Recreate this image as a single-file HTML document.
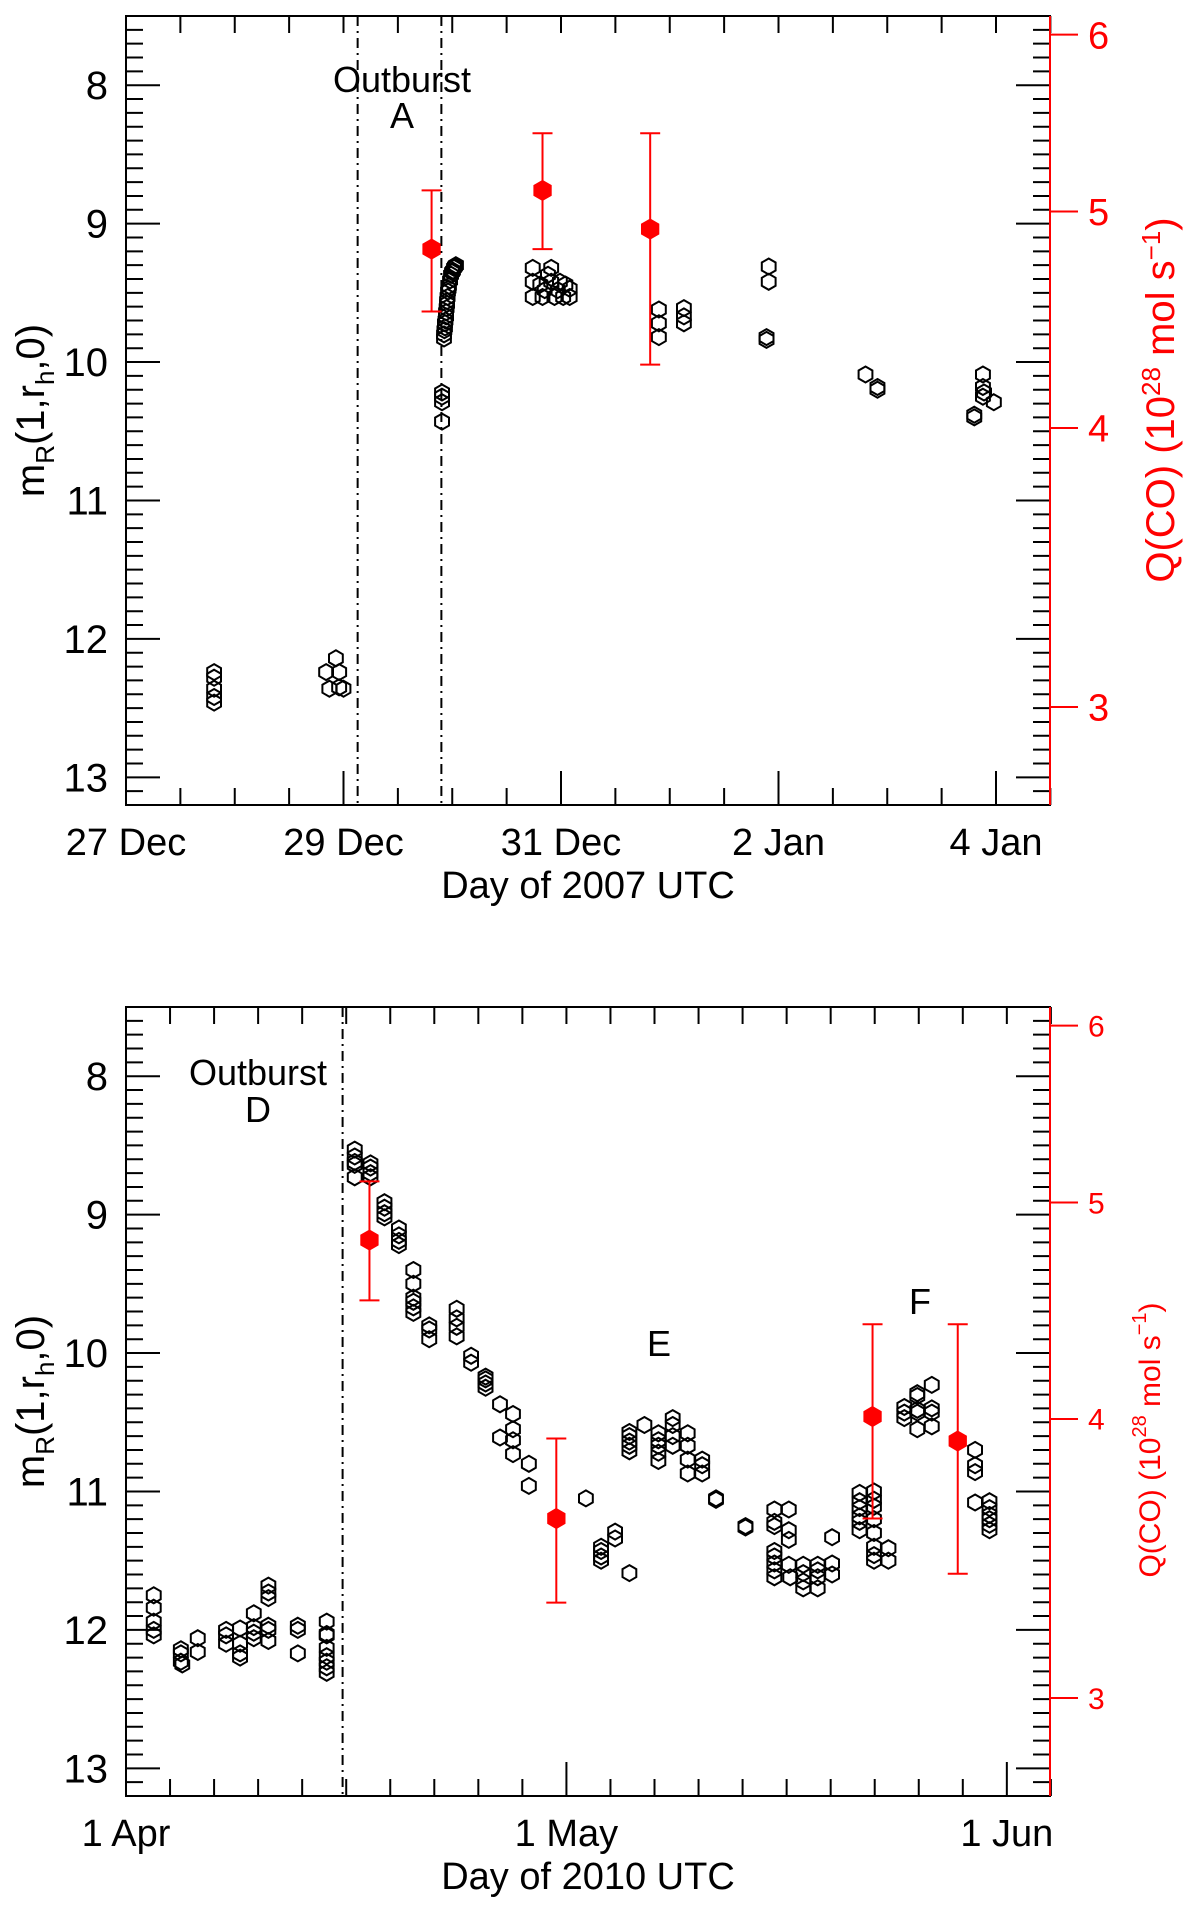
<!DOCTYPE html>
<html><head><meta charset="utf-8"><style>
html,body{margin:0;padding:0;background:#fff}
svg{display:block;font-family:"Liberation Sans",sans-serif}
</style></head><body>
<svg id="fig" width="1200" height="1906" viewBox="0 0 1200 1906" xmlns="http://www.w3.org/2000/svg"></svg>
<script>
// ---------- Panel A data (days since 27 Dec 2007 0h) ----------
const topDays = [0.81,0.81,0.81,0.81,0.81, 1.84,1.93,1.96,1.87,2.0,1.96,
 2.924,2.924,2.928,2.933,2.933,2.938,2.943,2.943,2.948,2.952,2.952,2.957,2.961,2.966,2.970,2.980,2.989,2.998,3.007,3.016,3.025,3.034,
 2.906,2.906,2.906,2.906,
 3.74,3.91,3.74,3.81,3.91,3.99,4.04,4.08,3.74,3.83,3.94,4.02,4.08,3.85,3.97,3.88,
 4.90,4.90,4.90,5.13,5.13,5.13,5.91,5.91,5.89,5.89,
 6.80,6.91,6.91,7.88,7.88,7.88,7.89,7.98,7.80,7.80];
const topMags = [12.24,12.28,12.36,12.42,12.46, 12.24,12.14,12.24,12.36,12.36,12.35,
 9.83,9.80,9.77,9.75,9.72,9.70,9.67,9.64,9.61,9.58,9.56,9.53,9.49,9.47,9.45,9.41,9.37,9.35,9.34,9.32,9.31,9.30,
 10.22,10.25,10.29,10.43,
 9.32,9.32,9.42,9.44,9.42,9.42,9.44,9.47,9.53,9.53,9.53,9.53,9.53,9.48,9.48,9.37,
 9.62,9.72,9.82,9.61,9.67,9.72,9.31,9.42,9.82,9.84,
 10.09,10.18,10.20,10.09,10.18,10.25,10.22,10.29,10.40,10.38];
const topQDays = [2.81,3.83,4.82];
const topQ = [4.81,5.11,4.91];
const topQHi = [5.11,5.42,5.42];
const topQLo = [4.51,4.81,4.27];
const topOutburstDays = [2.13,2.90];
const topXLabels = ["27 Dec","29 Dec","31 Dec","2 Jan","4 Jan"];

// ---------- Panel B data (days since 1 Apr 2010 0h) ----------
const botDays = [1.92,1.92,1.92,1.92,1.92, 3.8,3.8,3.8,3.9, 4.97,4.97, 6.93,6.93,6.93, 7.9,7.9,7.9,7.9,
 8.85,8.85,8.85,8.85, 9.86,9.86,9.86,9.86,9.86,9.86, 11.9,11.9,11.9, 13.9,13.9,13.9,13.9,13.9,13.9,13.9,13.9,
 15.84,15.84,15.84,15.84,15.84, 16.93,16.93,16.93,16.93, 17.9,17.9,17.9,17.9, 18.9,18.9,18.9,18.9,
 19.9,19.9,19.9,19.9,19.9,19.9, 21.0,21.0,21.0, 22.9,22.9,22.9,22.9, 23.9,23.9, 24.9,24.9,24.9,24.9,
 25.9,25.9, 26.8,26.8,26.8,26.8, 27.9,27.9,
 31.85, 32.9,32.9,32.9,32.9, 33.87,33.87, 34.86, 34.86,34.86,34.86,34.86,34.86, 35.9,
 36.87,36.87,36.87,36.87,36.87, 37.86,37.86,37.86,37.86, 38.9,38.9,38.9,38.9, 39.9,39.9,39.9, 40.86,40.86, 42.9,42.9,
 44.9,44.9,44.9,44.9,44.9,44.9,44.9,44.9, 45.9,45.9,45.9,45.9,46.0, 46.9,46.9,46.9,46.9, 47.9,47.9,47.9,47.9, 48.9,48.9,48.9,
 50.8,50.8,50.8,50.8,50.8,50.8, 51.8,51.8,51.8,51.8,51.8,51.8,51.8,51.8, 52.8,52.8,
 53.9,53.9,53.9, 54.8,54.8,54.8,54.8,54.8, 55.8,55.8,55.8,55.8,
 58.8,58.8,58.8,58.8, 59.8,59.8,59.8,59.8,59.8,59.8];
const botMags = [11.75,11.84,11.94,12.0,12.04, 12.14,12.17,12.23,12.25, 12.06,12.16, 12.0,12.04,12.1, 11.99,12.1,12.17,12.2,
 11.88,11.98,12.02,12.06, 11.68,11.73,11.77,11.97,12.0,12.08, 11.97,12.0,12.17, 11.94,12.03,12.04,12.13,12.19,12.23,12.27,12.31,
 8.53,8.58,8.62,8.64,8.73, 8.63,8.66,8.70,8.73, 8.91,8.95,8.99,9.02, 9.1,9.15,9.19,9.22,
 9.4,9.5,9.6,9.63,9.67,9.71, 9.8,9.83,9.9, 9.68,9.75,9.81,9.88, 10.02,10.07, 10.17,10.19,10.22,10.25,
 10.37,10.61, 10.44,10.55,10.63,10.73, 10.8,10.96,
 11.05, 11.40,11.43,11.47,11.5, 11.29,11.34, 11.59, 10.57,10.6,10.64,10.67,10.71, 10.52,
 10.58,10.63,10.67,10.72,10.78, 10.47,10.52,10.6,10.67, 10.58,10.67,10.77,10.87, 10.77,10.81,10.87, 11.05,11.06, 11.25,11.26,
 11.13,11.22,11.25,11.43,11.47,11.52,11.57,11.62, 11.13,11.28,11.35,11.53,11.62, 11.53,11.59,11.65,11.70, 11.53,11.57,11.62,11.70, 11.33,11.52,11.60,
 11.01,11.07,11.12,11.18,11.22,11.28, 11.0,11.06,11.11,11.2,11.3,11.4,11.46,11.5, 11.41,11.5,
 10.39,10.43,10.47, 10.29,10.31,10.41,10.43,10.55, 10.23,10.4,10.43,10.53,
 10.7,10.81,10.86,11.08, 11.07,11.12,11.17,11.2,11.24,11.28];
const botQDays = [16.86,29.8,51.7,57.6];
const botQ = [4.81,3.61,4.01,3.91];
const botQHi = [5.11,3.92,4.41,4.41];
const botQLo = [4.52,3.31,3.61,3.41];
const botOutburstDays = [15.0];
const botXLabels = ["1 Apr","1 May","1 Jun"];

const yTickLabels = [8,9,10,11,12,13];
const qTickLabels = [3,4,5,6];

// ---------- drawing ----------
const NS = "http://www.w3.org/2000/svg";
const svg = document.getElementById("fig");
function el(tag, attrs, parent){
  const e = document.createElementNS(NS, tag);
  for (const k in attrs) e.setAttribute(k, attrs[k]);
  (parent||svg).appendChild(e);
  return e;
}
function hexPath(cx, cy, r){
  let d = "";
  for (let i=0;i<6;i++){
    const a = Math.PI/180*(60*i-90);
    d += (i?"L":"M")+(cx+r*Math.cos(a)).toFixed(1)+","+(cy+r*Math.sin(a)).toFixed(1);
  }
  return d+"Z";
}

function drawPanel(p){
  const L=126, R=1050, T=p.top, B=p.top+789;
  const yMin=7.5, yMax=13.2;
  const yScale = m => T + (m-yMin)/(yMax-yMin)*(B-T);
  const qScale = q => T + 691 - 970*Math.log(q/3);
  const xScale = p.xScale;
  const g = el("g", {});
  
  

  const frame = el("rect", {x:L, y:T, width:R-L, height:B-T, fill:"none", stroke:"#000", "stroke-width":2}, g);
  
  

  for (let i=0;i<=57;i++){
    const m = yMin + i*0.1;
    const major = Math.abs(m-Math.round(m))<1e-6;
    const y = yScale(m);
    const len = major?34:17;
    el("line",{x1:L,y1:y,x2:L+len,y2:y,stroke:"#000","stroke-width":2},g);
    el("line",{x1:R,y1:y,x2:R-len,y2:y,stroke:"#000","stroke-width":2},g);
  }
  yTickLabels.forEach(v=>{
    const t = el("text",{x:108,y:yScale(v)+14,"font-size":40,"text-anchor":"end",fill:"#000"},g);
    t.textContent = v;
    
    
  });

  p.xTicks.forEach(tk=>{
    const x = xScale(tk.d);
    const len = tk.major?34:17;
    el("line",{x1:x,y1:B,x2:x,y2:B-len,stroke:"#000","stroke-width":2},g);
    el("line",{x1:x,y1:T,x2:x,y2:T+17,stroke:"#000","stroke-width":2},g);
  });
  p.labels.forEach((lab,i)=>{
    const t = el("text",{x:xScale(p.labelDays[i]),y:B+50,"font-size":38,"text-anchor":"middle",fill:"#000"},g);
    t.textContent = lab;
    
    
  });
  const xt = el("text",{x:588,y:B+93,"font-size":38,"text-anchor":"middle",fill:"#000"},g);
  xt.textContent = p.xTitle;
  
  

  const yc = (T+B)/2;
  const yt = el("text",{x:0,y:0,"font-size":40,"text-anchor":"middle",fill:"#000",transform:`translate(44,${yc}) rotate(-90)`},g);
  yt.innerHTML = 'm<tspan font-size="26" dy="10">R</tspan><tspan dy="-10">(1,r</tspan><tspan font-size="26" dy="10">h</tspan><tspan dy="-10">,0)</tspan>';
  
  

  const qa = el("line",{x1:R,y1:T,x2:R,y2:B,stroke:"#f00","stroke-width":2},g);
  
  
  qTickLabels.forEach(v=>{
    const y = qScale(v);
    el("line",{x1:R,y1:y,x2:R+28,y2:y,stroke:"#f00","stroke-width":2},g);
    const t = el("text",{x:R+38,y:y+p.qFont*0.36,"font-size":p.qFont,fill:"#f00"},g);
    t.textContent = v;
    
    
  });
  const qt = el("text",{x:0,y:0,"font-size":p.qTitleFont,"text-anchor":"middle",fill:"#f00",transform:`translate(${p.qTitleX},${p.qTitleY}) rotate(-90)`},g);
  qt.innerHTML = 'Q(CO) (10<tspan font-size="'+Math.round(p.qTitleFont*0.65)+'" dy="-14">28</tspan><tspan dy="14"> mol s</tspan><tspan font-size="'+Math.round(p.qTitleFont*0.65)+'" dy="-14">−1</tspan><tspan dy="14">)</tspan>';
  
  

  p.outburst.forEach(d=>{
    const ln = el("line",{x1:xScale(d),y1:T,x2:xScale(d),y2:B,stroke:"#000","stroke-width":2,"stroke-dasharray":"10,5,2,5"},g);
    
    
  });
  p.annotations.forEach(a=>{
    const t = el("text",{x:a.x,y:a.y,"font-size":36,"text-anchor":"middle",fill:"#000"},g);
    t.textContent = a.text;
    
    
  });

  const pts = el("g",{},g);
  
  
  p.days.forEach((d,i)=>{
    const h = el("path",{d:hexPath(xScale(d), yScale(p.mags[i]), 8),fill:"none",stroke:"#000","stroke-width":2},pts);
    
    
  });

  const qg = el("g",{},g);
  
  
  p.qDays.forEach((d,i)=>{
    const x = xScale(d), yh = qScale(p.qHi[i]), yl = qScale(p.qLo[i]);
    el("line",{x1:x,y1:yh,x2:x,y2:yl,stroke:"#f00","stroke-width":2},qg);
    el("line",{x1:x-10,y1:yh,x2:x+10,y2:yh,stroke:"#f00","stroke-width":2},qg);
    el("line",{x1:x-10,y1:yl,x2:x+10,y2:yl,stroke:"#f00","stroke-width":2},qg);
    const h = el("path",{d:hexPath(x, qScale(p.q[i]), 10),fill:"#f00",stroke:"#f00","stroke-width":1},qg);
    
    
  });
}

const topTicks = [];
for (let i=0;i<=17;i++){ topTicks.push({d:i*0.5, major:(i%4===0)}); }
drawPanel({
  name:"panel-outburst-a", top:16,
  xScale: d => 126 + d*108.75,
  xTicks: topTicks, labels: topXLabels, labelDays:[0,2,4,6,8],
  xTitle:"Day of 2007 UTC",
  days: topDays, mags: topMags,
  qDays: topQDays, q: topQ, qHi: topQHi, qLo: topQLo,
  outburst: topOutburstDays,
  annotations:[{text:"Outburst",x:402,y:92},{text:"A",x:402,y:128}],
  qFont:38, qTitleFont:40, qTitleX:1174, qTitleY:400
});

const botTicks = [];
for (let i=0;i<=21;i++){ botTicks.push({d:i*3.05, major:(i%10===0)}); }
drawPanel({
  name:"panel-outburst-d", top:1007,
  xScale: d => 126 + d*14.44,
  xTicks: botTicks, labels: botXLabels, labelDays:[0,30.5,61],
  xTitle:"Day of 2010 UTC",
  days: botDays, mags: botMags,
  qDays: botQDays, q: botQ, qHi: botQHi, qLo: botQLo,
  outburst: botOutburstDays,
  annotations:[{text:"Outburst",x:258,y:1085},{text:"D",x:258,y:1122},{text:"E",x:659,y:1356},{text:"F",x:920,y:1314}],
  qFont:30, qTitleFont:30, qTitleX:1160, qTitleY:1440
});
</script>
</body></html>
